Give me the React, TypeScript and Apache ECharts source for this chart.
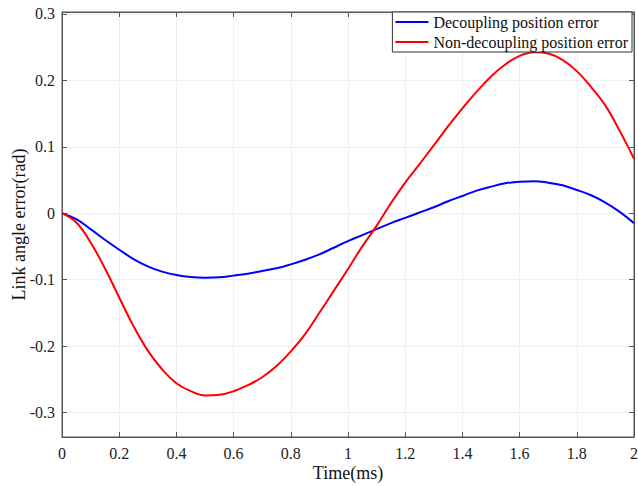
import React, { useEffect, useRef } from "react";
import * as echarts from "echarts";

const timeMs = [
  0, 0.05, 0.1, 0.15, 0.2, 0.25, 0.3, 0.35, 0.4, 0.45, 0.5, 0.55, 0.6, 0.65, 0.7, 0.75, 0.8, 0.85, 0.9, 0.95,
  1.0, 1.05, 1.1, 1.15, 1.2, 1.25, 1.3, 1.35, 1.4, 1.45, 1.5, 1.55, 1.6, 1.65, 1.7, 1.75, 1.8, 1.85, 1.9, 1.95, 2.0,
];

const decouplingError = [
  0, -0.009, -0.024, -0.04, -0.055, -0.069, -0.08, -0.088, -0.093, -0.096, -0.097, -0.0965, -0.094, -0.091, -0.087,
  -0.083, -0.077, -0.07, -0.062, -0.052, -0.042, -0.033, -0.024, -0.015, -0.007, 0.001, 0.009, 0.018, 0.026, 0.034,
  0.04, 0.045, 0.0475, 0.048, 0.046, 0.042, 0.035, 0.027, 0.016, 0.002, -0.015,
];

const nonDecouplingError = [
  0, -0.014, -0.044, -0.083, -0.127, -0.17, -0.207, -0.235, -0.256, -0.268, -0.2745, -0.2735, -0.268, -0.259, -0.247,
  -0.23, -0.208, -0.182, -0.15, -0.117, -0.084, -0.05, -0.019, 0.015, 0.046, 0.074, 0.102, 0.131, 0.158, 0.183, 0.206,
  0.224, 0.237, 0.2425, 0.2405, 0.231, 0.214, 0.19, 0.162, 0.124, 0.082,
];

const seriesNames = ["Decoupling position error", "Non-decoupling position error"];
const seriesColors = ["#0000ff", "#ff0000"];
const xAxisName = "Time(ms)";
const yAxisName = "Link angle error(rad)";

const FONT = "'Liberation Serif', 'Times New Roman', serif";

export default function App() {
  const ref = useRef<HTMLDivElement>(null);

  useEffect(() => {
    if (!ref.current) return;
    const chart = echarts.init(ref.current, null, { renderer: "svg" });
    const yMin = -0.337;
    const yMax = 0.303;
    const axisColor = "#555";
    const fmtY = (v: number) => {
      const r = Math.round(v * 10) / 10;
      if (Math.abs(v - r) > 1e-6) return "";
      return String(r === 0 ? 0 : r);
    };
    chart.setOption({
      animation: false,
      backgroundColor: "#fff",
      grid: {
        left: 62,
        right: 4,
        top: 12,
        bottom: 49,
        outerBoundsMode: "none",
        containLabel: false,
        show: true,
        borderColor: axisColor,
        borderWidth: 1,
        backgroundColor: "transparent",
      },
      legend: {
        orient: "vertical",
        right: 6,
        top: 12,
        icon: "rect",
        itemWidth: 33,
        itemHeight: 2,
        itemGap: 4,
        padding: [2, 4, 2, 3],
        borderColor: "#333",
        borderWidth: 1,
        backgroundColor: "#fff",
        textStyle: { fontFamily: FONT, fontSize: 16, color: "#111", lineHeight: 16 },
        data: seriesNames,
      },
      xAxis: [
        {
          type: "value",
          min: 0,
          max: 2,
          interval: 0.2,
          position: "bottom",
          name: xAxisName,
          nameLocation: "middle",
          nameGap: 27,
          nameMoveOverlap: false,
          nameTextStyle: { fontFamily: FONT, fontSize: 18, color: "#111" },
          axisLine: { show: true, onZero: false, lineStyle: { color: axisColor } },
          axisTick: { show: true, inside: true, length: 5, lineStyle: { color: axisColor } },
          axisLabel: { fontFamily: FONT, fontSize: 16, color: "#222", margin: 8 },
          splitLine: { show: true, lineStyle: { color: "#efefef", width: 1 } },
        },
        {
          type: "value",
          min: 0,
          max: 2,
          interval: 0.2,
          position: "top",
          axisLine: { show: true, onZero: false, lineStyle: { color: axisColor } },
          axisTick: { show: true, inside: true, length: 5, lineStyle: { color: axisColor } },
          axisLabel: { show: false },
          splitLine: { show: false },
        },
      ],
      yAxis: [
        {
          type: "value",
          min: yMin,
          max: yMax,
          splitNumber: 6,
          position: "left",
          name: yAxisName,
          nameLocation: "middle",
          nameGap: 34,
          nameMoveOverlap: false,
          nameTextStyle: { fontFamily: FONT, fontSize: 18, color: "#111" },
          axisLine: { show: true, onZero: false, lineStyle: { color: axisColor } },
          axisTick: { show: true, inside: true, length: 5, lineStyle: { color: axisColor } },
          axisLabel: { fontFamily: FONT, fontSize: 16, color: "#222", margin: 7, formatter: fmtY },
          splitLine: { show: true, lineStyle: { color: "#efefef", width: 1 } },
        },
        {
          type: "value",
          min: yMin,
          max: yMax,
          splitNumber: 6,
          position: "right",
          axisLine: { show: true, onZero: false, lineStyle: { color: axisColor } },
          axisTick: { show: true, inside: true, length: 5, lineStyle: { color: axisColor } },
          axisLabel: { show: false },
          splitLine: { show: false },
        },
      ],
      series: [
        {
          name: seriesNames[0],
          type: "line",
          xAxisIndex: 0,
          yAxisIndex: 0,
          symbol: "none",
          smooth: 0.4,
          lineStyle: { color: seriesColors[0], width: 2 },
          itemStyle: { color: seriesColors[0] },
          data: timeMs.map((t, i) => [t, decouplingError[i]]),
        },
        {
          name: seriesNames[1],
          type: "line",
          xAxisIndex: 0,
          yAxisIndex: 0,
          symbol: "none",
          smooth: 0.4,
          lineStyle: { color: seriesColors[1], width: 2 },
          itemStyle: { color: seriesColors[1] },
          data: timeMs.map((t, i) => [t, nonDecouplingError[i]]),
        },
      ],
    });
    return () => chart.dispose();
  }, []);

  return (
    <div
      ref={ref}
      style={{ position: "fixed", left: 0, top: 0, width: 638, height: 486, background: "#fff" }}
    />
  );
}
